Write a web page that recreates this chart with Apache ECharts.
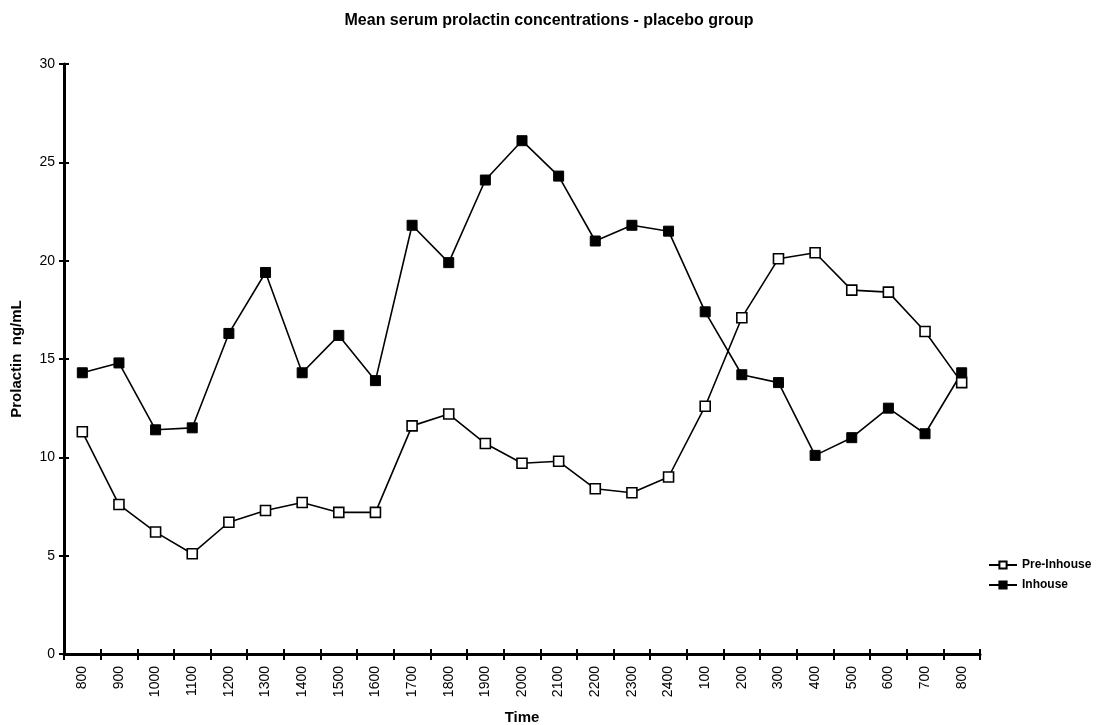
<!DOCTYPE html>
<html>
<head>
<meta charset="utf-8">
<script src="https://cdn.jsdelivr.net/npm/echarts@6/dist/echarts.min.js"></script>
<style>
  html, body { margin: 0; padding: 0; background: #fff; }
  #chart { width: 1098px; height: 725px; }
</style>
</head>
<body>
<div id="chart"></div>
<script>
// Sampling times (clock hours, over 24 h)
const times = ['800', '900', '1000', '1100', '1200', '1300', '1400', '1500', '1600',
  '1700', '1800', '1900', '2000', '2100', '2200', '2300', '2400',
  '100', '200', '300', '400', '500', '600', '700', '800'];

// Mean prolactin (ng/mL)
const preInhouse = [11.3, 7.6, 6.2, 5.1, 6.7, 7.3, 7.7, 7.2, 7.2,
  11.6, 12.2, 10.7, 9.7, 9.8, 8.4, 8.2, 9.0,
  12.6, 17.1, 20.1, 20.4, 18.5, 18.4, 16.4, 13.8];
const inhouse = [14.3, 14.8, 11.4, 11.5, 16.3, 19.4, 14.3, 16.2, 13.9,
  21.8, 19.9, 24.1, 26.1, 24.3, 21.0, 21.8, 21.5,
  17.4, 14.2, 13.8, 10.1, 11.0, 12.5, 11.2, 14.3];

const yTicks = { min: 0, max: 30, interval: 5 };

const font = 'Liberation Sans, Arial, sans-serif';
const chart = echarts.init(document.getElementById('chart'), null, { renderer: 'canvas' });

// Two grids share one rectangle: the first carries the data and outer ticks,
// the second only draws inward ticks so each tick crosses the axis line.
const gridRect = { left: 64, right: 118, top: 64, bottom: 71, containLabel: false, outerBoundsMode: 'none' };
const tickStyle = { color: '#000', width: 2 };

chart.setOption({
  backgroundColor: '#fff',
  animation: false,
  title: {
    text: 'Mean serum prolactin concentrations - placebo group',
    left: 'center',
    top: 8,
    textStyle: { fontFamily: font, fontSize: 16, fontWeight: 'bold', color: '#000' }
  },
  legend: {
    orient: 'vertical',
    left: 983,
    top: 554,
    itemGap: 8,
    itemWidth: 28,
    itemHeight: 9,
    textStyle: { fontFamily: font, fontSize: 12, fontWeight: 'bold', color: '#000' },
    data: ['Pre-Inhouse', 'Inhouse']
  },
  grid: [Object.assign({}, gridRect), Object.assign({}, gridRect)],
  xAxis: [
    {
      gridIndex: 0,
      type: 'category',
      data: times,
      position: 'bottom',
      boundaryGap: true,
      name: 'Time',
      nameLocation: 'middle',
      nameGap: 56,
      nameTextStyle: { fontFamily: font, fontSize: 15, fontWeight: 'bold', color: '#000' },
      axisLine: { lineStyle: { color: '#000', width: 3 } },
      axisTick: { show: true, length: 6, lineStyle: tickStyle },
      axisLabel: { rotate: 90, margin: 12, fontFamily: font, fontSize: 14, color: '#000' },
      splitLine: { show: false }
    },
    {
      gridIndex: 1,
      type: 'category',
      data: times,
      position: 'bottom',
      boundaryGap: true,
      axisLine: { show: false },
      axisTick: { show: true, inside: true, length: 5, lineStyle: tickStyle },
      axisLabel: { show: false },
      splitLine: { show: false }
    }
  ],
  yAxis: [
    {
      gridIndex: 0,
      type: 'value',
      min: yTicks.min,
      max: yTicks.max,
      interval: yTicks.interval,
      position: 'left',
      name: 'Prolactin  ng/mL',
      nameLocation: 'middle',
      nameGap: 40,
      nameTextStyle: { fontFamily: font, fontSize: 15, fontWeight: 'bold', color: '#000' },
      axisLine: { show: true, lineStyle: { color: '#000', width: 3 } },
      axisTick: { show: true, length: 5, lineStyle: tickStyle },
      axisLabel: { margin: 9, fontFamily: font, fontSize: 14, color: '#000' },
      splitLine: { show: false }
    },
    {
      gridIndex: 1,
      type: 'value',
      min: yTicks.min,
      max: yTicks.max,
      interval: yTicks.interval,
      position: 'left',
      axisLine: { show: false },
      axisTick: { show: true, inside: true, length: 5, lineStyle: tickStyle },
      axisLabel: { show: false },
      splitLine: { show: false }
    }
  ],
  series: [
    {
      name: 'Pre-Inhouse',
      type: 'line',
      xAxisIndex: 0,
      yAxisIndex: 0,
      data: preInhouse,
      symbol: 'rect',
      symbolSize: 10,
      lineStyle: { color: '#000', width: 1.6 },
      itemStyle: { color: '#fff', borderColor: '#000', borderWidth: 1.6 },
      z: 3
    },
    {
      name: 'Inhouse',
      type: 'line',
      xAxisIndex: 0,
      yAxisIndex: 0,
      data: inhouse,
      symbol: 'rect',
      symbolSize: 10,
      lineStyle: { color: '#000', width: 1.6 },
      itemStyle: { color: '#000', borderColor: '#000', borderWidth: 1 },
      z: 2
    }
  ]
});
</script>
</body>
</html>
